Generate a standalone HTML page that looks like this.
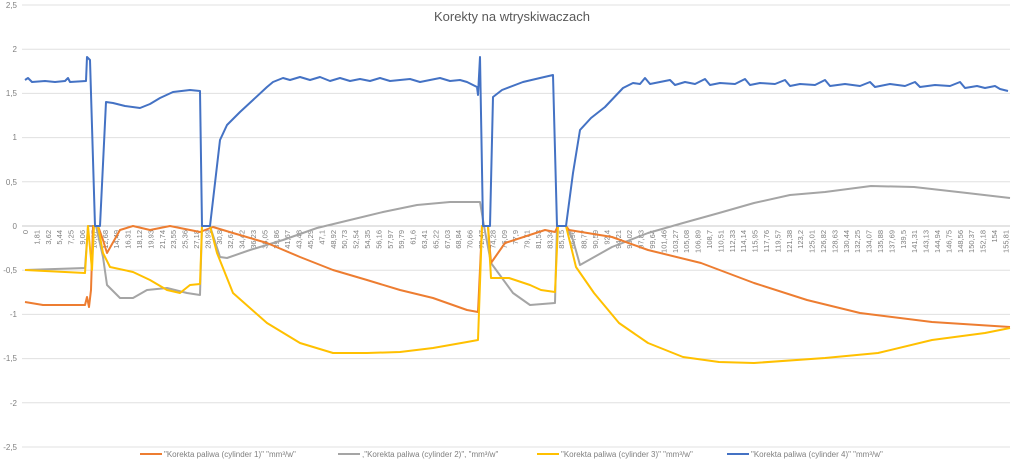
<!DOCTYPE html>
<html><head><meta charset="utf-8"><style>
html,body{margin:0;padding:0;background:#fff}
svg{display:block;font-family:"Liberation Sans",sans-serif}
</style></head><body>
<svg width="1024" height="467" viewBox="0 0 1024 467" xmlns="http://www.w3.org/2000/svg">
<rect width="1024" height="467" fill="#fff"/>
<text x="512" y="21" text-anchor="middle" font-size="13" fill="#595959">Korekty na wtryskiwaczach</text>
<g stroke="#e0e0e0" stroke-width="1">
<line x1="22" x2="1010" y1="5" y2="5"/><line x1="22" x2="1010" y1="49.2" y2="49.2"/><line x1="22" x2="1010" y1="93.4" y2="93.4"/><line x1="22" x2="1010" y1="137.6" y2="137.6"/><line x1="22" x2="1010" y1="181.8" y2="181.8"/><line x1="22" x2="1010" y1="270.2" y2="270.2"/><line x1="22" x2="1010" y1="314.4" y2="314.4"/><line x1="22" x2="1010" y1="358.6" y2="358.6"/><line x1="22" x2="1010" y1="402.8" y2="402.8"/><line x1="22" x2="1010" y1="447" y2="447"/>
</g>
<line x1="22" x2="1010" y1="226" y2="226" stroke="#c8c8c8"/>
<g font-size="8" fill="#7f7f7f" text-anchor="end">
<text x="17" y="8">2,5</text><text x="17" y="52">2</text><text x="17" y="96">1,5</text><text x="17" y="140">1</text><text x="17" y="185">0,5</text><text x="17" y="229">0</text><text x="17" y="273">-0,5</text><text x="17" y="317">-1</text><text x="17" y="361">-1,5</text><text x="17" y="406">-2</text><text x="17" y="450">-2,5</text>
</g>
<g font-size="7.5" fill="#7f7f7f" text-anchor="end">
<text transform="translate(28,230) rotate(-90)">0</text><text transform="translate(39.4,230) rotate(-90)">1,81</text><text transform="translate(50.8,230) rotate(-90)">3,62</text><text transform="translate(62.2,230) rotate(-90)">5,44</text><text transform="translate(73.6,230) rotate(-90)">7,25</text><text transform="translate(85,230) rotate(-90)">9,06</text><text transform="translate(96.4,230) rotate(-90)">10,87</text><text transform="translate(107.8,230) rotate(-90)">12,68</text><text transform="translate(119.2,230) rotate(-90)">14,49</text><text transform="translate(130.6,230) rotate(-90)">16,31</text><text transform="translate(142,230) rotate(-90)">18,12</text><text transform="translate(153.4,230) rotate(-90)">19,93</text><text transform="translate(164.8,230) rotate(-90)">21,74</text><text transform="translate(176.2,230) rotate(-90)">23,55</text><text transform="translate(187.6,230) rotate(-90)">25,36</text><text transform="translate(199,230) rotate(-90)">27,18</text><text transform="translate(210.4,230) rotate(-90)">28,99</text><text transform="translate(221.8,230) rotate(-90)">30,8</text><text transform="translate(233.2,230) rotate(-90)">32,61</text><text transform="translate(244.6,230) rotate(-90)">34,42</text><text transform="translate(256,230) rotate(-90)">36,23</text><text transform="translate(267.4,230) rotate(-90)">38,05</text><text transform="translate(278.8,230) rotate(-90)">39,86</text><text transform="translate(290.2,230) rotate(-90)">41,67</text><text transform="translate(301.6,230) rotate(-90)">43,48</text><text transform="translate(313,230) rotate(-90)">45,29</text><text transform="translate(324.4,230) rotate(-90)">47,1</text><text transform="translate(335.8,230) rotate(-90)">48,92</text><text transform="translate(347.2,230) rotate(-90)">50,73</text><text transform="translate(358.6,230) rotate(-90)">52,54</text><text transform="translate(370,230) rotate(-90)">54,35</text><text transform="translate(381.4,230) rotate(-90)">56,16</text><text transform="translate(392.8,230) rotate(-90)">57,97</text><text transform="translate(404.2,230) rotate(-90)">59,79</text><text transform="translate(415.6,230) rotate(-90)">61,6</text><text transform="translate(427,230) rotate(-90)">63,41</text><text transform="translate(438.4,230) rotate(-90)">65,22</text><text transform="translate(449.8,230) rotate(-90)">67,03</text><text transform="translate(461.2,230) rotate(-90)">68,84</text><text transform="translate(472.6,230) rotate(-90)">70,66</text><text transform="translate(484,230) rotate(-90)">72,47</text><text transform="translate(495.4,230) rotate(-90)">74,28</text><text transform="translate(506.8,230) rotate(-90)">76,09</text><text transform="translate(518.2,230) rotate(-90)">77,9</text><text transform="translate(529.6,230) rotate(-90)">79,71</text><text transform="translate(541,230) rotate(-90)">81,53</text><text transform="translate(552.4,230) rotate(-90)">83,34</text><text transform="translate(563.8,230) rotate(-90)">85,15</text><text transform="translate(575.2,230) rotate(-90)">86,96</text><text transform="translate(586.6,230) rotate(-90)">88,77</text><text transform="translate(598,230) rotate(-90)">90,59</text><text transform="translate(609.4,230) rotate(-90)">92,4</text><text transform="translate(620.8,230) rotate(-90)">94,21</text><text transform="translate(632.2,230) rotate(-90)">96,02</text><text transform="translate(643.6,230) rotate(-90)">97,83</text><text transform="translate(655,230) rotate(-90)">99,64</text><text transform="translate(666.4,230) rotate(-90)">101,46</text><text transform="translate(677.8,230) rotate(-90)">103,27</text><text transform="translate(689.2,230) rotate(-90)">105,08</text><text transform="translate(700.6,230) rotate(-90)">106,89</text><text transform="translate(712,230) rotate(-90)">108,7</text><text transform="translate(723.4,230) rotate(-90)">110,51</text><text transform="translate(734.8,230) rotate(-90)">112,33</text><text transform="translate(746.2,230) rotate(-90)">114,14</text><text transform="translate(757.6,230) rotate(-90)">115,95</text><text transform="translate(769,230) rotate(-90)">117,76</text><text transform="translate(780.4,230) rotate(-90)">119,57</text><text transform="translate(791.8,230) rotate(-90)">121,38</text><text transform="translate(803.2,230) rotate(-90)">123,2</text><text transform="translate(814.6,230) rotate(-90)">125,01</text><text transform="translate(826,230) rotate(-90)">126,82</text><text transform="translate(837.4,230) rotate(-90)">128,63</text><text transform="translate(848.8,230) rotate(-90)">130,44</text><text transform="translate(860.2,230) rotate(-90)">132,25</text><text transform="translate(871.6,230) rotate(-90)">134,07</text><text transform="translate(883,230) rotate(-90)">135,88</text><text transform="translate(894.4,230) rotate(-90)">137,69</text><text transform="translate(905.8,230) rotate(-90)">139,5</text><text transform="translate(917.2,230) rotate(-90)">141,31</text><text transform="translate(928.6,230) rotate(-90)">143,13</text><text transform="translate(940,230) rotate(-90)">144,94</text><text transform="translate(951.4,230) rotate(-90)">146,75</text><text transform="translate(962.8,230) rotate(-90)">148,56</text><text transform="translate(974.2,230) rotate(-90)">150,37</text><text transform="translate(985.6,230) rotate(-90)">152,18</text><text transform="translate(997,230) rotate(-90)">154</text><text transform="translate(1008.4,230) rotate(-90)">155,81</text>
</g>
<g fill="none" stroke-width="2" stroke-linejoin="round">
<polyline stroke="#a5a5a5" points="25,270 85,268 88,226 96,226 103,257 107,285 120,298 133,298 147,290 167,288 187,293 200,295 202,226 210,226 220,257 227,258 250,250 283,240 317,228 350,220 383,212 417,205 450,202 480,202 484,226 491,263 513,293 530,305 555,303 557,226 566,226 573,240 580,265 612,247 648,233 683,223 719,213 754,203 790,195 825,192 871,186 914,187 967,193 1010,198"/>
<polyline stroke="#ed7d31" points="25,302 43,305 85,305 87,297 89,307 91,290 93,226 98,226 103,240 107,253 120,230 133,226 150,230 170,226 200,232 213,227 233,233 267,243 300,257 333,270 367,280 400,290 433,298 467,310 478,312 482,226 488,226 491,263 505,243 545,230 555,232 558,226 566,226 569,230 612,237 648,250 701,263 754,283 807,300 860,313 932,322 1010,327"/>
<polyline stroke="#ffc000" points="25,270 85,273 88,226 92,270 94,226 98,226 103,253 110,267 133,272 150,280 167,290 180,293 190,285 200,284 202,226 210,226 217,253 233,293 267,323 300,343 333,353 367,353 400,352 433,348 467,342 478,340 482,226 488,226 491,278 509,278 530,285 541,290 555,292 558,226 566,226 576,267 594,293 619,323 648,343 683,357 719,362 754,363 825,358 878,353 932,340 985,333 1010,328"/>
<polyline stroke="#4472c4" points="25,80 28,78 32,82 45,81 55,82 65,81 68,78 70,82 86,81 87,57 90,60 95,226 100,226 106,102 113,103 125,106 140,108 150,104 160,98 173,92 190,90 200,91 202,226 210,226 220,140 227,125 240,112 253,100 267,87 273,82 283,78 290,80 300,77 310,80 320,77 330,81 340,78 350,81 360,79 370,81 380,78 390,81 400,80 410,79 420,82 430,80 440,78 450,81 460,80 467,82 477,87 478,95 480,57 483,226 490,226 493,97 502,90 523,82 540,78 553,75 557,226 566,226 573,173 580,130 591,118 605,107 623,88 633,83 640,84 645,78 650,84 660,82 670,80 675,85 685,82 695,84 705,79 710,85 720,83 735,84 745,79 750,85 760,83 775,84 785,80 790,86 800,84 815,85 825,80 830,86 845,84 860,86 870,82 875,87 890,84 905,86 915,82 920,87 935,85 950,86 960,82 965,88 977,86 985,88 995,86 1000,89 1008,91"/>
</g>
<g font-size="8" fill="#7f7f7f">
<line x1="140" x2="162" y1="454" y2="454" stroke="#ed7d31" stroke-width="2"/><text x="164" y="457">"Korekta paliwa (cylinder 1)" "mm³/w"</text>
<line x1="338" x2="360" y1="454" y2="454" stroke="#a5a5a5" stroke-width="2"/><text x="362" y="457">,"Korekta paliwa (cylinder 2)", "mm³/w"</text>
<line x1="537" x2="559" y1="454" y2="454" stroke="#ffc000" stroke-width="2"/><text x="561" y="457">"Korekta paliwa (cylinder 3)" "mm³/w"</text>
<line x1="727" x2="749" y1="454" y2="454" stroke="#4472c4" stroke-width="2"/><text x="751" y="457">"Korekta paliwa (cylinder 4)" "mm³/w"</text>
</g>
</svg>
</body></html>
